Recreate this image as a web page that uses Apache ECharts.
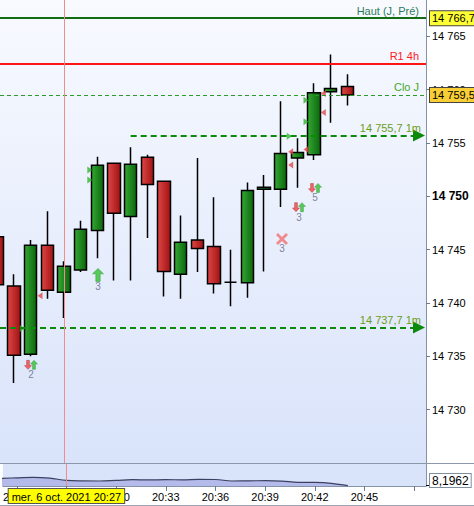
<!DOCTYPE html>
<html><head><meta charset="utf-8">
<script src="https://cdn.jsdelivr.net/npm/echarts@6/dist/echarts.min.js"></script>
<style>html,body{margin:0;padding:0;background:#fff}#c{width:474px;height:506px}</style>
</head><body><div id="c"></div>
<script>
// ---- data ----
const minutes = [23,24,25,26,27,28,29,30,31,32,33,34,35,36,37,38,39,40,41,42,43,44]; // 20:xx
const opens  = [14746.2,14741.6,14735.2,14745.4,14741.0,14743.1,14746.8,14753.1,14748.1,14753.65,14751.4,14742.7,14745.9,14745.3,14741.95,14741.9,14750.65,14750.65,14753.6,14753.9,14759.8,14760.3];
const closes = [14741.7,14735.1,14745.4,14741.2,14743.45,14746.9,14752.9,14748.4,14753.0,14751.1,14742.95,14745.7,14745.1,14741.8,14741.95,14750.55,14750.85,14754.0,14754.1,14759.7,14760.1,14759.5];
const lows   = [14740.0,14732.5,14735.0,14740.4,14738.6,14742.9,14744.2,14742.1,14742.1,14746.1,14740.6,14740.4,14742.9,14740.9,14739.7,14740.5,14742.95,14749.0,14750.8,14753.4,14756.9,14758.5];
const highs  = [14747.0,14742.7,14745.9,14748.6,14743.9,14747.7,14753.7,14753.1,14754.6,14753.9,14751.4,14748.2,14753.6,14749.9,14745.0,14751.3,14752.0,14758.9,14755.45,14760.6,14763.3,14761.45];

const yTickValues = [14730,14735,14740,14745,14750,14755,14760,14765];
const yTickLabels = ['14 730','14 735','14 740','14 745','14 750','14 755','14 760','14 765'];
const xTickMinutes = [24,27,30,33,36,39,42,45,48];
const xLabelMinutes = [24,27,30,33,36,39,42,45];
const xTickLabels = ['20:24','20:27','20:30','20:33','20:36','20:39','20:42','20:45'];

const levelValues = [14766.7, 14762.45, 14759.5];
const levelNames  = ['Haut (J, Pré)', 'R1 4h', 'Clo J'];
const levelBoxes  = ['14 766,7', '', '14 759,5'];

const arrowLevels = [14755.7, 14737.7];
const arrowStarts = [31, 23.16];
const arrowEnds   = [48.3, 48.3];
const arrowNames  = ['14 755,7 1m', '14 737,7 1m'];

const cursorMinute = 27;
const cursorText = 'mer. 6 oct. 2021 20:27';

const indValues = [7.6,8.2,8.7,7.8,5.6,5.1,5.0,5.6,6.3,6.1,6.3,6.2,6.6,6.5,5.0,5.2,5.3,4.9,3.7,3.6,2.7,0.3];
const indLast = '8,1962';

const triMinutes = [28.55,28.55,25.56,24.5,40.52,40.6,40.6,41.52,41.52,41.52,42.56,42.56];
const triPrices  = [14752.46,14751.53,14740.67,14737.6,14755.64,14754.17,14752.93,14754.39,14759.0,14756.98,14759.64,14757.85];
const triDirs    = ['r','r','l','r','r','l','l','l','r','r','l','l'];

const sigMinutes = [29.04, 25.02, 40.08, 41.1, 42.06];
const sigPrices  = [14742.63, 14734.2, 14746.0, 14748.98, 14750.78];
const sigKinds   = ['up','pair','x','pair','pair'];
const sigCounts  = ['3','2','3','3','5'];

// ---- chart ----
const FONT = 'Liberation Sans, Arial, sans-serif';
const G = echarts.graphic;
const greenGrad = new G.LinearGradient(0,0,1,0,[{offset:0,color:'#34a834'},{offset:1,color:'#0b660b'}]);
const redGrad   = new G.LinearGradient(0,0,1,0,[{offset:0,color:'#de4646'},{offset:1,color:'#a11212'}]);
const UP = 'path://M5,0 L10,5 L7,5 L7,12 L3,12 L3,5 L0,5 Z';
const DOWN = 'path://M3,0 L7,0 L7,7 L10,7 L5,12 L0,7 L3,7 Z';
const CROSS = 'path://M2,0 L6,4 L10,0 L12,2 L8,6 L12,10 L10,12 L6,8 L2,12 L0,10 L4,6 L0,2 Z';

const levelLines = [];
levelValues.forEach((v,i)=>{
  const colors = ['#136b13','#ff1414','#2a9a2a'];
  const txt = ['#2f7a5c','#ff2020','#45a82a'];
  const ls = i===2 ? {color:colors[i],width:1,type:[4,3]} : {color:colors[i],width:2,type:'solid'};
  levelLines.push({yAxis:v, lineStyle:ls,
    label:{show:true, position:'insideEndTop', formatter:levelNames[i], color:txt[i], fontSize:11, fontFamily:FONT, distance:[7,2]}});
  if (levelBoxes[i]) levelLines.push({yAxis:v, lineStyle:ls,
    label:{show:true, position:'end', formatter:levelBoxes[i], color:'#000', fontSize:11, fontFamily:FONT,
      backgroundColor: i===0 ? '#ffff33' : '#f9cf35', borderColor:'#444', borderWidth:1, padding:[2,1,1,2], distance:4}});
});
arrowLevels.forEach((v,i)=>{
  levelLines.push([
    {coord:[arrowStarts[i], v], symbol:'none',
     lineStyle:{color:'#0b8a0b',width:2,type:[6,4]},
     label:{show:true, position:'insideEndTop', formatter:arrowNames[i], color:'#6a9e22', fontSize:11, fontFamily:FONT, distance:[-2,2]}},
    {coord:[arrowEnds[i], v], symbol:'triangle', symbolSize:12}
  ]);
});
levelLines.push({xAxis:cursorMinute, lineStyle:{color:'#f28c8c',width:1,type:'solid'}, label:{show:false}});

const triData = triMinutes.map((m,i)=>({
  value:[m, triPrices[i]], symbol:'triangle', symbolSize:[7,5],
  symbolRotate: triDirs[i]==='r' ? -90 : 90,
  itemStyle:{color: triDirs[i]==='r' ? '#2fb52f' : '#e04848'}
}));
const sigData = [];
const sigLabelData = [];
sigKinds.forEach((k,i)=>{
  const m = sigMinutes[i], p = sigPrices[i];
  if (k==='up') sigData.push({value:[m,p], symbol:UP, symbolSize:[11,13], itemStyle:{color:'#33c033',borderColor:'#1c8c1c',borderWidth:0.5}});
  else if (k==='x') sigData.push({value:[m,p], symbol:CROSS, symbolSize:[12,12], itemStyle:{color:'#f07070'}});
  else {
    sigData.push({value:[m-0.18,p], symbol:DOWN, symbolSize:[7,9], itemStyle:{color:'#ee4444',borderColor:'#b02020',borderWidth:0.5}});
    sigData.push({value:[m+0.18,p], symbol:UP, symbolSize:[7,9], itemStyle:{color:'#33c033',borderColor:'#1c8c1c',borderWidth:0.5}});
  }
  sigLabelData.push({value:[m,p], label:{show:true, formatter:sigCounts[i], position:'bottom', distance: k==='up'?7:5}});
});

const option = {
  animation:false,
  textStyle:{fontFamily:FONT},
  grid:[
    {left:0, right:48, top:0, height:463, show:true, borderWidth:0,
     backgroundColor:new G.LinearGradient(0,0,0,1,[{offset:0,color:'#f8faff'},{offset:1,color:'#d9e3fa'}])},
    {left:0, right:48, top:463, height:23, show:true, borderWidth:0, backgroundColor:'#d9e3fa'}
  ],
  xAxis:[
    {gridIndex:0, type:'value', min:23.16, max:48.72, show:false},
    {gridIndex:1, type:'value', min:23.16, max:48.72,
     axisLine:{show:true, lineStyle:{color:'#8493a8'}},
     axisTick:{show:true, length:5, customValues:xTickMinutes, lineStyle:{color:'#6b7b90'}},
     axisLabel:{customValues:xLabelMinutes, color:'#000', fontSize:11, margin:5,
       formatter:v=>xTickLabels[xLabelMinutes.indexOf(Math.round(v))] || ''},
     splitLine:{show:false}}
  ],
  yAxis:[
    {gridIndex:0, type:'value', position:'right', min:14725, max:14768.4, scale:true,
     axisLine:{show:true, lineStyle:{color:'#8493a8'}},
     axisTick:{show:true, length:4, customValues:yTickValues, lineStyle:{color:'#6b7b90'}},
     axisLabel:{customValues:yTickValues, color:'#000', fontSize:11, margin:6,
       formatter:v=>{const i=yTickValues.indexOf(Math.round(v)); const t=yTickLabels[i]||''; return Math.round(v)===14750 ? '{b|'+t+'}' : t;},
       rich:{b:{fontWeight:'bold', fontSize:12, color:'#000'}}},
     splitLine:{show:false}},
    {gridIndex:1, type:'value', position:'right', min:0, max:23,
     axisLine:{show:true, lineStyle:{color:'#8493a8'}}, axisTick:{show:false}, axisLabel:{show:false}, splitLine:{show:false}}
  ],
  series:[
    {type:'line', name:'levels', xAxisIndex:0, yAxisIndex:0, data:[], z:1, silent:true,
     markLine:{silent:true, symbol:'none', animation:false, data:levelLines}},
    {type:'candlestick', xAxisIndex:0, yAxisIndex:0, z:2, barWidth:13, clip:true,
     data:minutes.map((m,i)=>[m, opens[i], closes[i], lows[i], highs[i]]),
     itemStyle:{color:greenGrad, color0:redGrad, borderColor:'#000', borderColor0:'#000', borderColorDoji:'#000', borderWidth:1.5}},
    {type:'scatter', xAxisIndex:0, yAxisIndex:0, z:3, data:triData, silent:true},
    {type:'scatter', xAxisIndex:0, yAxisIndex:0, z:3, data:sigData, silent:true},
    {type:'scatter', xAxisIndex:0, yAxisIndex:0, z:3, data:sigLabelData, symbolSize:0, silent:true,
     label:{color:'#5e6688', fontSize:10, fontFamily:FONT}},
    {type:'line', xAxisIndex:1, yAxisIndex:1, z:2, smooth:0.4, symbol:'none',
     data:minutes.map((m,i)=>[m, indValues[i]]),
     lineStyle:{color:'#3b4060', width:1.2}, areaStyle:{color:'#b4bbea', opacity:1},
     markLine:{silent:true, symbol:'none', animation:false,
       data:[{xAxis:cursorMinute, lineStyle:{color:'#f28c8c',width:1,type:'solid'},
         label:{show:true, position:'start', formatter:cursorText, color:'#000', fontSize:11, fontFamily:FONT,
           backgroundColor:'#ffff00', borderColor:'#555', borderWidth:1, padding:[2,3,1,3], distance:3}}]}}
  ],
  graphic:[
    {type:'line', shape:{x1:0,y1:463.5,x2:474,y2:463.5}, style:{stroke:'#8a98aa',lineWidth:1}, z:10},
    {type:'line', shape:{x1:0,y1:505.5,x2:474,y2:505.5}, style:{stroke:'#9aa6b4',lineWidth:1}, z:10},
    {type:'line', shape:{x1:426,y1:485.5,x2:431,y2:485.5}, style:{stroke:'#000',lineWidth:1}, z:10},
    {type:'text', x:430, y:474, z:10,
     style:{text:indLast, fill:'#000', font:'12px '+FONT, backgroundColor:'#fff', borderColor:'#7f8fa0', borderWidth:1, padding:[1,2,0,2]}}
  ]
};
const chart = echarts.init(document.getElementById('c'), null, {renderer:'svg'});
chart.setOption(option);
</script>
</body></html>
